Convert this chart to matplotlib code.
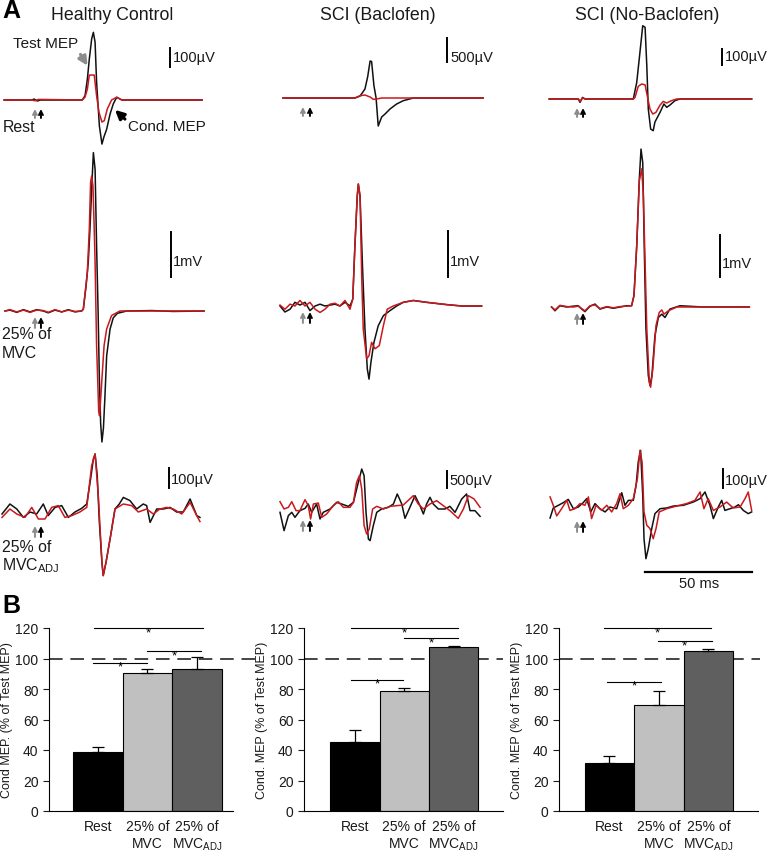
import matplotlib
matplotlib.use('Agg')
import matplotlib.pyplot as plt
from matplotlib.patches import FancyArrowPatch
from matplotlib.transforms import offset_copy

plt.rcParams['font.family'] = ['Liberation Sans', 'DejaVu Sans']
plt.rcParams['mathtext.fontset'] = 'custom'
plt.rcParams['mathtext.rm'] = 'Liberation Sans'

# ---------------- data: EMG traces (time in ms, amplitude in uV or mV) ----------------
# Healthy control, rest (uV)
hc_rest_test_t = [1, 14, 15, 16.5, 18, 37.5, 38.8, 39.9, 40.8, 41.9, 42.7, 43.5, 44.2, 45.5, 46.7, 47.6, 48.9, 50.5, 52.0, 53.6, 56.0, 93.5]
hc_rest_test_v = [0, 0, 5, -5, 0, 0, 22, 108, 210, 313, 347, 296, 92, -132, -226, -190, -150, -72, -20, 14, 0, 0]
hc_rest_cond_t = [1, 14, 15.5, 17, 37.5, 38.8, 39.9, 40.8, 43.1, 44.2, 45.3, 46.7, 47.8, 49.2, 51.2, 53.6, 56.0, 93.5]
hc_rest_cond_v = [0, 0, -4, 3, 0, 15, 56, 128, 128, 22, -62, -113, -106, -46, 0, 14, 0, 0]

# SCI baclofen, rest (uV)
bac_rest_test_t = [1.4, 35.0, 37.4, 39.7, 41.0, 42.1, 42.8, 43.9, 44.9, 45.9, 47.5, 49.1, 51.4, 54.5, 57.6, 62.3, 94.9]
bac_rest_test_v = [0, 0, 40, 187, 450, 770, 760, 256, 0, -583, -396, -333, -229, -125, -56, 0, 0]
bac_rest_cond_t = [1.4, 35.0, 37.4, 39.7, 42.1, 43.6, 45.2, 47.5, 94.9]
bac_rest_cond_v = [0, 0, 48, 62, 21, -28, -21, 0, 0]

# SCI no-baclofen, rest (uV)
nob_rest_test_t = [0.1, 13.7, 14.5, 15.7, 16.8, 39.4, 41.0, 42.5, 43.8, 44.9, 45.7, 46.4, 47.5, 48.7, 49.5, 51.9, 53.7, 55.0, 56.5, 58.9, 61.2, 94.7]
nob_rest_test_v = [0, 0, -21, 10, 0, 0, 104, 292, 458, 448, 208, -63, -188, -198, -144, -83, -31, -52, -38, -10, 0, 0]
nob_rest_cond_t = [0.1, 13.7, 14.5, 15.7, 16.8, 39.4, 40.2, 41.7, 43.3, 44.9, 45.9, 47.2, 48.5, 50.0, 51.9, 53.4, 55.0, 57.3, 59.7, 94.7]
nob_rest_cond_v = [0, 0, -15, 8, 0, 0, 10, 79, 94, 88, 21, -63, -94, -83, -38, -15, -25, -10, 0, 0]

# Healthy control, 25% MVC (mV)
hc_mvc_test_t = [1.4, 3.7, 6.9, 10.0, 13.1, 16.2, 19.3, 21.6, 24.8, 27.9, 31.0, 34.1, 37.2, 38.0, 39.3, 40.3, 41.1, 41.9, 42.7, 43.5, 44.2, 44.9,
                 45.5, 46.1, 46.7, 47.4, 48.1, 48.9, 50.5, 52.0, 54.0, 58.3, 70.0, 80.0, 94.4]
hc_mvc_test_v = [0, 0.02, -0.03, 0.03, -0.02, 0.03, 0, -0.04, 0.02, -0.02, 0.03, -0.02, 0, 0.04, 0.56, 1.08, 1.82, 2.71, 3.52, 3.15, 1.45, 0,
                 -1.51, -2.5, -2.91, -2.6, -1.9, -1.0, -0.4, -0.15, -0.05, 0, 0.01, -0.01, 0]
hc_mvc_cond_t = [1.4, 3.7, 6.9, 10.0, 13.1, 16.2, 19.3, 21.6, 24.8, 27.9, 31.0, 34.1, 37.2, 38.0, 39.9, 40.8, 41.4, 41.9, 42.5, 43.1, 43.5,
                 44.2, 45.2, 45.6, 46.6, 47.7, 48.9, 51.2, 55.1, 94.4]
hc_mvc_cond_v = [0, 0.03, -0.02, 0.02, -0.03, 0.02, 0.01, -0.03, 0.03, -0.02, 0.02, -0.01, 0, 0.04, 0.87, 1.82, 2.86, 3.0, 2.78, 1.82, 1.08,
                 -0.77, -2.24, -2.33, -1.58, -0.77, -0.40, -0.1, 0, 0]

# SCI baclofen, 25% MVC (mV)
bac_mvc_test_t = [0, 2.3, 4.7, 7.0, 9.3, 11.7, 14.0, 16.4, 18.7, 21.0, 23.4, 25.7, 28.0, 30.4, 32.7, 34.0, 35.0, 36.1, 36.6, 37.4, 38.6,
                  39.7, 40.8, 41.6, 42.5, 43.9, 45.9, 48.3, 51.4, 54.5, 57.6, 62.3, 68.5, 77.9, 84.9, 94.2]
bac_mvc_test_v = [0, -0.13, -0.07, 0.08, 0.02, 0.08, -0.10, 0, 0.04, 0, 0.02, 0.04, 0, 0.08, 0, 0.15, 1.31, 2.39, 2.65, 2.39, 0.80,
                  -0.50, -1.37, -1.59, -1.22, -0.79, -0.43, -0.21, -0.10, 0, 0.08, 0.12, 0.08, 0.03, 0, 0]
bac_mvc_cond_t = [0, 2.3, 4.7, 7.0, 9.3, 11.7, 14.0, 16.4, 18.7, 21.0, 23.4, 25.7, 28.0, 30.4, 32.7, 34.0, 35.0, 36.1, 36.6, 37.4, 38.2,
                  38.9, 40.5, 41.6, 42.8, 44.4, 46.4, 48.3, 50.1, 52.9, 57.6, 62.3, 68.5, 77.9, 84.9, 94.2]
bac_mvc_cond_v = [0.02, -0.07, 0.04, 0, 0.12, 0, 0.08, -0.07, -0.14, -0.07, 0.04, 0.06, 0, 0.12, -0.07, 0.15, 1.31, 2.39, 2.65, 2.39, 0.59,
                  -0.50, -1.15, -1.08, -0.79, -0.93, -0.86, -0.43, -0.07, 0, 0.08, 0.12, 0.08, 0.03, 0, 0]

# SCI no-baclofen, 25% MVC (mV)
nob_mvc_test_t = [1.2, 2.8, 5.1, 8.3, 11.4, 13.7, 15.3, 16.8, 19.2, 21.5, 23.8, 27.0, 30.1, 33.2, 36.3, 38.6, 39.7, 41.0, 42.2, 43.0, 43.8,
                  44.5, 45.3, 46.4, 47.2, 48.1, 49.5, 51.1, 52.7, 54.2, 56.5, 61.2, 72.1, 93.6]
nob_mvc_test_v = [0, -0.09, 0.03, 0, 0.02, 0.03, -0.05, -0.11, 0.02, 0.07, -0.05, 0, -0.03, 0, 0.03, 0.03, 0.27, 1.46, 3.05, 3.76, 3.44,
                  1.46, -0.52, -1.63, -1.87, -1.63, -0.68, -0.25, -0.17, -0.25, -0.05, 0.03, 0, 0]
nob_mvc_cond_t = [1.2, 2.8, 5.1, 8.3, 11.4, 13.7, 15.3, 16.8, 19.2, 21.5, 23.8, 27.0, 30.1, 33.2, 36.3, 38.6, 39.7, 41.0, 42.2, 43.3, 44.1,
                  44.9, 45.7, 46.9, 47.5, 48.5, 50.0, 51.5, 52.7, 53.7, 55.8, 59.7, 72.1, 93.6]
nob_mvc_cond_v = [0, -0.07, 0.04, 0.01, 0, 0.02, -0.04, -0.09, 0.03, 0.05, -0.04, 0.01, -0.02, 0.01, 0.02, 0.03, 0.27, 1.46, 3.0, 3.29, 2.65,
                  1.06, -0.52, -1.79, -1.91, -1.48, -0.44, -0.13, -0.07, -0.17, -0.09, 0, 0, 0]

# Healthy control, 25% MVC_ADJ (uV)
hc_adj_test_t = [0, 3.7, 6.9, 10.0, 13.1, 16.2, 19.3, 21.6, 24.8, 27.9, 31.0, 34.1, 37.2, 39.6, 41.4, 42.7, 43.5, 44.5, 45.5, 46.7, 47.3,
                 48.6, 50.5, 52.8, 54.8, 56.7, 59.8, 62.9, 66.0, 67.6, 69.2, 72.3, 75.4, 78.5, 81.6, 84.7, 87.9, 91.0, 92.5]
hc_adj_test_v = [-10, 40, 15, -27, 0, -10, 40, -18, 23, 32, -27, 0, 18, 40, 165, 265, 290, 182, -52, -252, -318,
                 -252, -135, 15, 40, 73, 57, 15, 40, 32, -52, 15, 15, 23, 0, 0, 65, -18, -27]
hc_adj_cond_t = [0, 3.7, 6.9, 10.7, 13.9, 17.0, 20.1, 23.2, 26.3, 29.4, 32.6, 36.4, 39.6, 41.9, 43.5, 45.0, 46.7, 47.3, 48.6, 50.5,
                 52.8, 56.7, 60.6, 63.7, 67.6, 70.7, 73.8, 77.0, 80.0, 84.0, 87.9, 91.0, 92.5]
hc_adj_cond_v = [-27, 15, -10, -27, 23, -35, -35, 23, 32, -27, -18, 0, 23, 232, 290, 82, -252, -318, -252, -135,
                 15, 40, 32, 0, 15, -10, 15, 23, 15, -10, 48, -18, -48]

# SCI baclofen, 25% MVC_ADJ (uV)
bac_adj_test_t = [0, 1.9, 3.9, 5.5, 7.0, 9.3, 11.7, 13.2, 14.8, 17.1, 18.7, 20.2, 23.4, 26.5, 28.8, 31.9, 34.3, 36.6, 38.2, 39.3, 40.2,
                  41.3, 42.1, 43.6, 45.2, 47.5, 50.6, 53.0, 54.8, 56.9, 58.4, 60.7, 63.1, 65.4, 67.0, 68.5, 70.1, 71.6, 74.0, 77.1,
                  79.4, 81.8, 84.9, 87.2, 88.8, 91.1, 93.5]
bac_adj_test_v = [-186, -725, -284, -186, -333, -137, -69, 59, -186, 59, -382, -186, -88, 108, 59, -10, 108, 696, 1088, 892, -186,
                  -970, -1019, -578, -186, -88, -39, 59, 353, 59, -363, -39, 304, 10, -235, 59, 255, 59, -88, -88,
                  -10, -186, 206, 353, -137, -137, -304]
bac_adj_cond_t = [0, 1.9, 3.9, 5.5, 7.5, 9.3, 11.7, 13.2, 14.3, 15.6, 17.9, 19.5, 21.8, 24.9, 27.2, 29.6, 32.7, 34.3, 35.8, 37.1, 38.2,
                  39.3, 40.5, 41.7, 43.3, 45.2, 48.3, 51.4, 57.6, 62.3, 64.6, 67.0, 70.1, 73.2, 76.3, 79.4, 83.3, 85.7, 88.0, 90.7, 93.5]
bac_adj_cond_v = [127, -88, -39, 127, -137, -137, 186, 10, -382, 59, 88, -333, -235, 10, 127, -39, -39, 108, 696, 892, 500,
                  -578, -823, -676, -88, -10, -88, -10, 29, 304, 59, -88, 59, 157, 10, -137, -363, -88, 304, 206, -39]

# SCI no-baclofen, 25% MVC_ADJ (uV)
nob_adj_test_t = [0.5, 2.0, 4.4, 6.7, 9.0, 11.4, 13.7, 16.0, 17.6, 19.5, 21.5, 23.8, 26.2, 28.5, 31.6, 34.0, 35.5, 37.1, 39.4, 40.7, 41.7,
                  42.8, 43.8, 44.4, 45.3, 46.4, 48.0, 49.5, 51.9, 55.0, 58.1, 62.8, 67.4, 70.6, 72.9, 75.2, 76.8, 79.1, 80.7, 82.2,
                  84.6, 86.9, 88.5, 90.8, 93.1, 94.7]
nob_adj_test_v = [-58, -5, 9, 23, 40, -9, 0, 23, 44, -26, 18, -9, -26, 0, -9, 75, 9, 35, 35, 114, 237,
                  298, 61, -167, -272, -219, -114, -35, -9, -5, 5, 9, 26, 44, 79, 9, -61, 0, 35, -18,
                  -9, 0, 12, -18, -35, -26]
nob_adj_cond_t = [0.5, 2.0, 3.6, 5.9, 8.3, 9.8, 12.1, 14.5, 16.8, 18.4, 19.9, 22.0, 24.6, 27.0, 29.3, 31.6, 33.2, 34.7, 37.1, 39.4,
                  41.3, 42.5, 43.5, 44.4, 45.7, 47.2, 48.7, 50.0, 51.5, 55.0, 59.7, 64.3, 68.2, 70.6, 72.4, 74.4, 76.8, 79.9,
                  83.0, 86.1, 89.3, 91.6, 93.1, 94.7]
nob_adj_cond_v = [53, 9, -47, -9, 35, -18, -9, 18, 9, 53, -61, 9, -18, 9, -26, 18, 70, -9, 9, 44,
                  149, 298, 237, -26, -96, -114, -167, -114, -26, -9, 5, 18, 35, 79, -9, 44, -18, 0,
                  26, -5, 0, 44, 79, -18]

# scale bars (value, unit)
scale_values = [[100, 500, 100], [1, 1, 1], [100, 500, 100]]
scale_labels = [['100µV', '500µV', '100µV'], ['1mV', '1mV', '1mV'], ['100µV', '500µV', '100µV']]
time_bar_ms = 50

# arrow times (ms): gray = test stimulus, black = conditioning
arrow_gray_t = [15.4, 10.7, 13.1]
arrow_black_t = [18.2, 14.0, 15.9]

# ---------------- data: bar charts ----------------
conditions = ['Rest', '25% of\nMVC', '25% of\nMVC$_\\mathregular{ADJ}$']
hc_mean = [39.0, 90.6, 93.2]
hc_err = [3.1, 2.6, 7.7]
bac_mean = [45.4, 79.0, 107.5]
bac_err = [7.7, 1.7, 0.9]
nob_mean = [31.6, 69.8, 105.1]
nob_err = [4.6, 9.2, 1.3]
hc_sig = [(-0.07, 2.11, 120), (1.0, 2.07, 104.9), (-0.09, 1.0, 97.2)]
bac_sig = [(-0.08, 2.08, 120), (1.0, 2.08, 113.4), (-0.08, 0.97, 86.0)]
nob_sig = [(-0.11, 2.05, 120), (0.97, 2.07, 111.2), (-0.05, 1.04, 84.9)]
test_level = 100

column_titles = ['Healthy Control', 'SCI (Baclofen)', 'SCI (No-Baclofen)']

# ---------------- layout ----------------
W, H = 770, 853
fig = plt.figure(figsize=(W / 100, H / 100), dpi=100)


def fx(x):
    return x / W


def fy(y):
    return 1 - y / H


def ftext(x, y, s, **kw):
    fig.text(fx(x), fy(y), s, **kw)


MS_PX = 2.14          # pixels per ms
T_SPAN = 96
col_left = [2, 280, 549]
row_band = [(20, 150), (140, 460), (440, 590)]
baseline_px = [[101, 99, 100], [312, 307, 308], [513, 507, 508]]
bar_px = [[19.5, 24, 16], [45, 46, 42], [20, 17, 19]]
bar_x_px = [[170, 447, 722], [171, 448, 720], [169, 447, 723]]
bar_bot_px = [[68, 63, 66], [278, 278, 278], [489, 489, 489]]
label_pos = [[(173, 58), (450, 58), (725, 57)],
             [(173, 262), (450, 262), (722, 264)],
             [(171, 480), (449, 481), (725, 481)]]
arrow_tip = [9, 6, 14]
arrow_len = [9, 11, 11]

traces = [
    [(hc_rest_test_t, hc_rest_test_v, hc_rest_cond_t, hc_rest_cond_v),
     (bac_rest_test_t, bac_rest_test_v, bac_rest_cond_t, bac_rest_cond_v),
     (nob_rest_test_t, nob_rest_test_v, nob_rest_cond_t, nob_rest_cond_v)],
    [(hc_mvc_test_t, hc_mvc_test_v, hc_mvc_cond_t, hc_mvc_cond_v),
     (bac_mvc_test_t, bac_mvc_test_v, bac_mvc_cond_t, bac_mvc_cond_v),
     (nob_mvc_test_t, nob_mvc_test_v, nob_mvc_cond_t, nob_mvc_cond_v)],
    [(hc_adj_test_t, hc_adj_test_v, hc_adj_cond_t, hc_adj_cond_v),
     (bac_adj_test_t, bac_adj_test_v, bac_adj_cond_t, bac_adj_cond_v),
     (nob_adj_test_t, nob_adj_test_v, nob_adj_cond_t, nob_adj_cond_v)],
]

BLACK = '#111111'
RED = '#c8191e'
GRAY_ARROW = '#8c8c8c'
TXT = '#1a1a1a'

for r in range(3):
    top, bot = row_band[r]
    for c in range(3):
        left = col_left[c]
        ax = fig.add_axes([fx(left), fy(bot), T_SPAN * MS_PX / W, (bot - top) / H])
        ax.set_axis_off()
        base = baseline_px[r][c]
        u = scale_values[r][c] / bar_px[r][c]   # units per pixel
        ax.set_xlim(0, T_SPAN)
        ax.set_ylim((base - bot) * u, (base - top) * u)
        tt, tv, ct, cv = traces[r][c]
        ax.plot(tt, tv, color=BLACK, lw=1.1, clip_on=False)
        ax.plot(ct, cv, color=RED, lw=1.1, clip_on=False)

        # vertical scale bar
        xb = (bar_x_px[r][c] - left) / MS_PX
        y0 = (base - bar_bot_px[r][c]) * u
        ax.plot([xb, xb], [y0, y0 + scale_values[r][c]], color='black', lw=1.4, clip_on=False)
        lx, ly = label_pos[r][c]
        ftext(lx, ly, scale_labels[r][c], fontsize=10.5, ha='left', va='center', color=TXT)

        # stimulus arrows
        for t_a, col in ((arrow_gray_t[c], GRAY_ARROW), (arrow_black_t[c], 'black')):
            trans = offset_copy(ax.transData, fig=fig, x=0, y=-arrow_tip[r], units='dots')
            ax.annotate('', xy=(t_a, 0), xycoords=trans,
                        xytext=(0, -arrow_len[r] * 0.72), textcoords='offset points',
                        arrowprops=dict(arrowstyle='->', color=col, lw=1.4,
                                        shrinkA=0, shrinkB=0, mutation_scale=7),
                        annotation_clip=False)

        # time scale bar
        if r == 2 and c == 2:
            x0 = (645 - left) / MS_PX
            yb = (base - 573) * u
            ax.plot([x0, x0 + time_bar_ms], [yb, yb], color='black', lw=1.6, clip_on=False)
            ftext(699, 584, '%d ms' % time_bar_ms, fontsize=10.5, ha='center', va='center', color=TXT)

# column titles and panel text
title_x = [112, 378, 647]
for c in range(3):
    ftext(title_x[c], 15, column_titles[c], fontsize=12.8, ha='center', va='center', color=TXT)
ftext(2, 11, 'A', fontsize=18, fontweight='bold', ha='left', va='center')
ftext(2, 606, 'B', fontsize=18, fontweight='bold', ha='left', va='center')

ftext(13, 44, 'Test MEP', fontsize=11, ha='left', va='center', color=TXT)
fig.patches.append(FancyArrowPatch(
    (fx(79), fy(53)), (fx(89), fy(69)), transform=fig.transFigure,
    arrowstyle='-|>', mutation_scale=13, color=GRAY_ARROW, lw=2.2))
ftext(128, 127, 'Cond. MEP', fontsize=11, ha='left', va='center', color=TXT)
fig.patches.append(FancyArrowPatch(
    (fx(127), fy(122)), (fx(113), fy(109)), transform=fig.transFigure,
    arrowstyle='-|>', mutation_scale=13, color='black', lw=2.2))
ftext(3, 128, 'Rest', fontsize=11.4, ha='left', va='center', color=TXT)
ftext(2, 335, '25% of', fontsize=11.4, ha='left', va='center', color=TXT)
ftext(2, 354, 'MVC', fontsize=11.4, ha='left', va='center', color=TXT)
ftext(2, 548, '25% of', fontsize=11.4, ha='left', va='center', color=TXT)
ftext(2, 566, 'MVC$_\\mathregular{ADJ}$', fontsize=11.4, ha='left', va='center', color=TXT)

# ---------------- bar charts ----------------
bar_ax_px = [(49, 233), (304, 503), (559, 758)]
bar_xlims = [(-0.98, 2.72), (-1.03, 3.0), (-1.02, 3.0)]
dash_end = [1.13, 1.0, 1.01]
ylabels = ['Cond MEP. (% of Test MEP)', 'Cond. MEP (% of Test MEP)', 'Cond. MEP (% of Test MEP)']
means = [hc_mean, bac_mean, nob_mean]
errs = [hc_err, bac_err, nob_err]
sigs = [hc_sig, bac_sig, nob_sig]
bar_colors = ['#000000', '#c0c0c0', '#5f5f5f']
y_top, y_bot = 629, 812

for i in range(3):
    x0, x1 = bar_ax_px[i]
    ax = fig.add_axes([fx(x0), fy(y_bot), (x1 - x0) / W, (y_bot - y_top) / H])
    xs = range(len(conditions))
    ax.bar(xs, means[i], width=1.0, color=bar_colors, edgecolor='black', linewidth=0.8, zorder=2)
    ax.errorbar(xs, means[i], yerr=[[0] * 3, errs[i]], fmt='none', ecolor='black',
                elinewidth=0.9, capsize=4, capthick=0.9, zorder=3)
    ax.plot([0, dash_end[i]], [test_level, test_level], transform=ax.get_yaxis_transform(),
            color='#444444', lw=1.4, dashes=(7, 4), clip_on=False, zorder=1)
    for (sx0, sx1, sy) in sigs[i]:
        ax.plot([sx0, sx1], [sy, sy], color='black', lw=0.8, clip_on=False)
        ax.text((sx0 + sx1) / 2, sy - 2.6, '*', ha='center', va='center', fontsize=9.5)
    ax.set_xlim(*bar_xlims[i])
    ax.set_ylim(0, 120)
    ax.set_yticks(range(0, 121, 20))
    ax.set_xticks(list(xs))
    ax.set_xticklabels(conditions)
    ax.tick_params(axis='y', length=4, width=0.8, labelsize=10, direction='out', colors=TXT)
    ax.tick_params(axis='x', length=0, pad=6, labelsize=10, colors=TXT)
    for s in ('top', 'right'):
        ax.spines[s].set_visible(False)
    for s in ('left', 'bottom'):
        ax.spines[s].set_linewidth(0.8)
    ax.set_ylabel(ylabels[i], fontsize=9.0, color=TXT)
    ax.yaxis.set_label_coords(-36 / (x1 - x0), 0.5)

fig.savefig('out.png', dpi=100, facecolor='white')
